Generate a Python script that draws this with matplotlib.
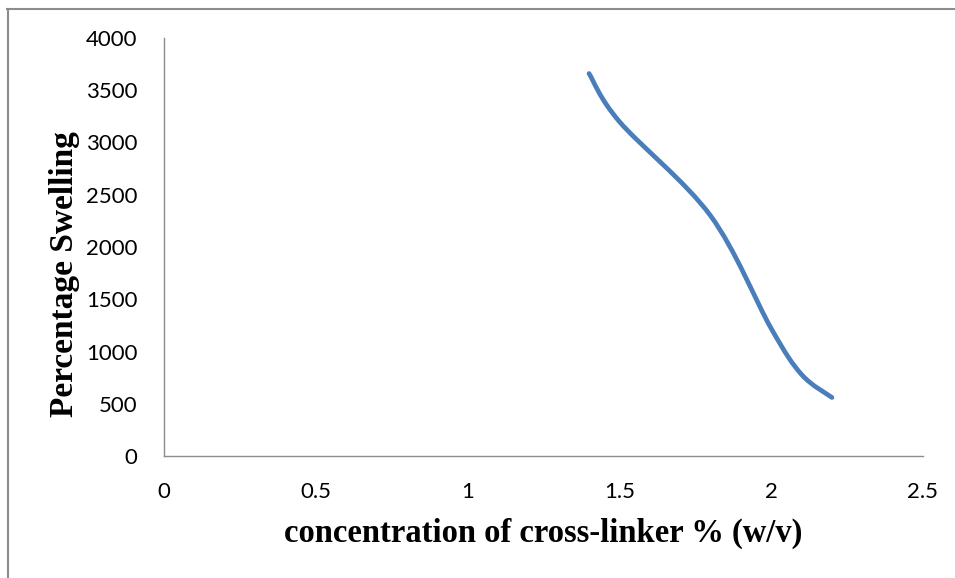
import matplotlib
matplotlib.use("Agg")
import matplotlib.pyplot as plt
from matplotlib.path import Path
from matplotlib.patches import PathPatch
from matplotlib.lines import Line2D
import numpy as np

# Data
conc = [1.4, 1.5, 1.8, 2.0, 2.1, 2.2]
swelling = [3660, 3200, 2300, 1220, 780, 560]
x_ticks = [0, 0.5, 1, 1.5, 2, 2.5]
x_tick_labels = ["0", "0.5", "1", "1.5", "2", "2.5"]
y_ticks = [0, 500, 1000, 1500, 2000, 2500, 3000, 3500, 4000]
x_label = "concentration of cross-linker % (w/v)"
y_label = "Percentage Swelling"

W, H = 955, 578
fig = plt.figure(figsize=(W / 100, H / 100), dpi=100)
ax = fig.add_axes([164 / W, 1 - 456 / H, (923 - 164) / W, (456 - 38) / H])

# Excel-style smoothed line (Bezier through the points)
P = np.column_stack([conc, swelling]).astype(float)
n = len(P)
verts = [tuple(P[0])]
codes = [Path.MOVETO]
for i in range(n - 1):
    p0 = P[i - 1] if i > 0 else P[i]
    p1 = P[i]
    p2 = P[i + 1]
    p3 = P[i + 2] if i + 2 < n else P[i + 1]
    c1 = p1 + (p2 - p0) / 6.0
    c2 = p2 - (p3 - p1) / 6.0
    verts += [tuple(c1), tuple(c2), tuple(p2)]
    codes += [Path.CURVE4] * 3
path = Path(verts, codes)
patch = PathPatch(path, facecolor="none", edgecolor="#4A7EBB", linewidth=3.4,
                  capstyle="round", joinstyle="round", transform=ax.transData)
ax.add_patch(patch)

ax.set_xlim(0, 2.5)
ax.set_ylim(0, 4000)
ax.set_xticks(x_ticks)
ax.set_xticklabels(x_tick_labels)
ax.set_yticks(y_ticks)
ax.set_yticklabels([str(v) for v in y_ticks])

for s in ["top", "right"]:
    ax.spines[s].set_visible(False)
for s in ["left", "bottom"]:
    ax.spines[s].set_color("#8c8c8c")
    ax.spines[s].set_linewidth(1.0)

ax.tick_params(axis="both", length=0, pad=19, labelsize=16)
for lab in ax.get_xticklabels() + ax.get_yticklabels():
    lab.set_fontfamily("Lato")

ax.set_xlabel(x_label, fontfamily="Liberation Serif", fontweight="bold",
              fontsize=23.5, labelpad=11)
ax.set_ylabel(y_label, fontfamily="Liberation Serif", fontweight="bold",
              fontsize=24)
ax.yaxis.set_label_coords(-0.111, 0.436)

# outer chart frame (cropped at right/bottom)
fig.add_artist(Line2D([7 / W, 1.0], [1 - 8.5 / H, 1 - 8.5 / H],
                      transform=fig.transFigure, color="#8c8c8c", linewidth=1.5))
fig.add_artist(Line2D([7.5 / W, 7.5 / W], [0.0, 1 - 8.5 / H],
                      transform=fig.transFigure, color="#8c8c8c", linewidth=1.5))

fig.savefig("out.png", dpi=100)
